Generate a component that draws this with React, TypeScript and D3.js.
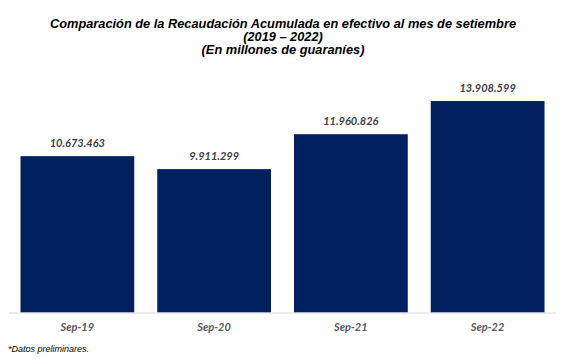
import React from "react";
import * as d3 from "d3";

const categories = ["Sep-19", "Sep-20", "Sep-21", "Sep-22"];
const values = [10673463, 9911299, 11960826, 13908599];
const valueLabels = ["10.673.463", "9.911.299", "11.960.826", "13.908.599"];
const titleLines = [
  "Comparación de la Recaudación Acumulada en efectivo al mes de setiembre",
  "(2019 – 2022)",
  "(En millones de guaraníes)",
];
const footnote = "*Datos preliminares.";

export default function App() {
  const W = 579, H = 364;
  const x = d3.scaleBand<string>().domain(categories).range([9, 556]).paddingInner(0.168).paddingOuter(0.084);
  const y = d3.scaleLinear().domain([1500000, 15000000]).range([312.5, 82.4]);
  const catFont = "Lato, 'Open Sans', sans-serif";
  return (
    <svg width={W} height={H} style={{ position: "absolute", left: 0, top: 0 }}>
      <rect width={W} height={H} fill="#fff" />
      {titleLines.map((t, i) => (
        <text key={i} x={283} y={27.5 + i * 13.3} textAnchor="middle" fontFamily="'Liberation Sans', Arial, sans-serif" fontWeight="bold" fontStyle="italic" fontSize={12.8} fill="#000">{t}</text>
      ))}
      {categories.map((c, i) => (
        <g key={c}>
          <rect x={x(c)} y={y(values[i])} width={x.bandwidth()} height={y.range()[0] - y(values[i])} fill="#002060" />
          <text x={(x(c) as number) + x.bandwidth() / 2} y={y(values[i]) - 9} textAnchor="middle" fontFamily={catFont} fontWeight="bold" fontStyle="italic" fontSize={11} fill="#404040">{valueLabels[i]}</text>
          <text x={(x(c) as number) + x.bandwidth() / 2} y={331} textAnchor="middle" fontFamily={catFont} fontStyle="italic" fontWeight="bold" fontSize={11} fill="#595959">{c}</text>
        </g>
      ))}
      <line x1={9} x2={556} y1={313} y2={313} stroke="#d9d9d9" strokeWidth={1} />
      <text x={8} y={352} fontFamily="'Liberation Sans', Arial, sans-serif" fontStyle="italic" fontSize={9} fill="#000">{footnote}</text>
    </svg>
  );
}
